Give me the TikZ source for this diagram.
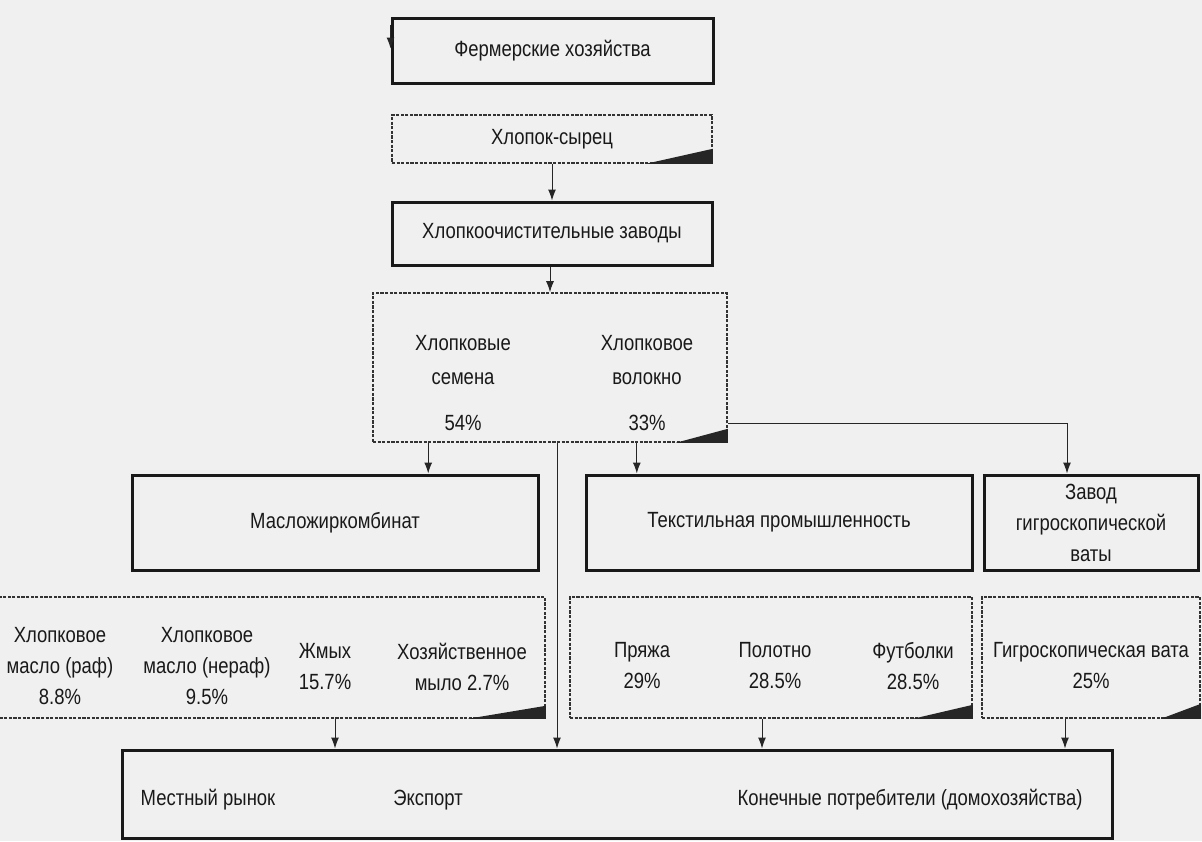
\documentclass[tikz,border=0pt]{standalone}
\usepackage{fontspec}
\setmainfont[FakeStretch=0.84]{Liberation Sans}
\usetikzlibrary{arrows.meta,positioning}

\tikzset{
  solidbox/.style={draw=black!90, line width=1.5pt, inner sep=0pt, text=black!90},
  dashbox/.style={draw=black!80, line width=0.8pt, dash pattern=on 1.6pt off 0.7pt, inner sep=0pt},
  lbl/.style={align=center, inner sep=0pt, text=black!90},
  flow/.style={draw=black!85, line width=0.5pt, -{Latex[length=5.5pt,width=4pt]}},
}

\begin{document}
\begin{tikzpicture}[x=0.5pt,y=-0.5pt, font=\fontsize{11}{15.5}\selectfont]
	\fill[black!6] (0,0) rectangle (1202,841);
	\useasboundingbox (0,0) rectangle (1202,841);
	% upper chain
	\node[solidbox, minimum width=160.5pt, minimum height=32.5pt] (farm) at (552.5,50.5) {Фермерские хозяйства};
	\node[dashbox, minimum width=160pt, minimum height=24pt, text=black!90] (raw) at (552,139) {Хлопок-сырец};
	\node[solidbox, minimum width=160pt, minimum height=31.5pt] (gin) at (552,233.5) {Хлопкоочистительные заводы};
	\node[dashbox, minimum width=177pt, minimum height=74.5pt] (split) at (550,367.5) {};
	\node[lbl, font=\fontsize{11}{17}\selectfont] (seeds) at (463,360) {Хлопковые\\семена};
	\node[lbl] (seedpct) at (463,423) {54\%};
	\node[lbl, font=\fontsize{11}{17}\selectfont] (fibre) at (647,360) {Хлопковое\\волокно};
	\node[lbl] (fibrepct) at (647,423) {33\%};
	% processing
	\node[solidbox, minimum width=203pt, minimum height=47.5pt] (oil) at (335,522.5) {Масложиркомбинат};
	\node[solidbox, minimum width=193pt, minimum height=47.5pt] (textile) at (779,522.5) {Текстильная промышленность};
	\node[solidbox, minimum width=107pt, minimum height=47.5pt, align=center] (wool) at (1091,522.5) {Завод\\гигроскопической\\ваты};
	% products
	\node[dashbox, minimum width=275pt, minimum height=60.5pt] (oilprod) at (270,657.5) {};
	\node[dashbox, minimum width=201pt, minimum height=60.5pt] (texprod) at (771,657.5) {};
	\node[dashbox, minimum width=109pt, minimum height=60.5pt] (woolprod) at (1091,657.5) {};
	\node[lbl] (rafoil) at (60,666) {Хлопковое\\масло (раф)\\8.8\%};
	\node[lbl] (crudeoil) at (207,666) {Хлопковое\\масло (нераф)\\9.5\%};
	\node[lbl] (cake) at (325,667) {Жмых\\15.7\%};
	\node[lbl] (soap) at (462,667) {Хозяйственное\\мыло 2.7\%};
	\node[lbl] (yarn) at (642,666) {Пряжа\\29\%};
	\node[lbl] (cloth) at (775,666) {Полотно\\28.5\%};
	\node[lbl] (shirts) at (913,666) {Футболки\\28.5\%};
	\node[lbl] (cottonwool) at (1091,666) {Гигроскопическая вата\\25\%};
	% consumers
	\node[solidbox, minimum width=495pt, minimum height=44pt] (market) at (617,794) {};
	\node[lbl] (local) at (208,800) {Местный рынок};
	\node[lbl] (export) at (428,800) {Экспорт};
	\node[lbl] (house) at (910,800) {Конечные потребители (домохозяйства)};
	% corner marks
	\fill[black!85] (raw.south east) -- ++(-67,0) -- ++(67,-15) -- cycle;
	\fill[black!85] (split.south east) -- ++(-52,0) -- ++(52,-14) -- cycle;
	\fill[black!85] (oilprod.south east) -- ++(-78,0) -- ++(78,-13) -- cycle;
	\fill[black!85] (texprod.south east) -- ++(-60,0) -- ++(60,-14) -- cycle;
	\fill[black!85] (woolprod.south east) -- ++(-40,0) -- ++(40,-15) -- cycle;
	% arrows
	\draw[flow] ([yshift=-4pt]farm.north west) -- ([yshift=-16pt]farm.north west);
	\draw[flow] (raw.south) -- (gin.north);
	\draw[flow] (gin.south -| split.north) -- (split.north);
	\draw[flow] ([xshift=28pt]split.south west) -- ([xshift=28pt]split.south west |- oil.north);
	\draw[flow] ([xshift=-45.5pt]split.south east) -- ([xshift=-45.5pt]split.south east |- textile.north);
	\draw[flow] ([yshift=-27.75pt]split.east) -| ([xshift=-12pt]wool.north);
	\draw[flow] ([xshift=3.5pt]split.south) -- ([xshift=3.5pt]split.south |- market.north);
	\draw[flow] ([xshift=32.5pt]oilprod.south) -- ([xshift=32.5pt]oilprod.south |- market.north);
	\draw[flow] ([xshift=-4.5pt]texprod.south) -- ([xshift=-4.5pt]texprod.south |- market.north);
	\draw[flow] ([xshift=-13pt]woolprod.south) -- ([xshift=-13pt]woolprod.south |- market.north);
\end{tikzpicture}
\end{document}
